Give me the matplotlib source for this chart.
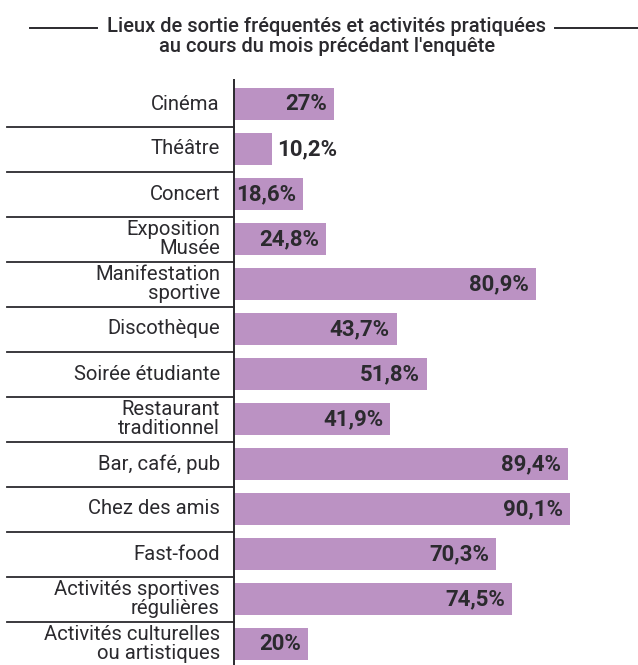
import matplotlib
matplotlib.use("Agg")
import matplotlib.pyplot as plt
from matplotlib.lines import Line2D
import matplotlib.transforms as mtransforms

categories = [
    "Cinéma", "Théâtre", "Concert", "Exposition\nMusée",
    "Manifestation\nsportive", "Discothèque", "Soirée étudiante",
    "Restaurant\ntraditionnel", "Bar, café, pub", "Chez des amis",
    "Fast-food", "Activités sportives\nrégulières",
    "Activités culturelles\nou artistiques",
]
values = [27, 10.2, 18.6, 24.8, 80.9, 43.7, 51.8, 41.9, 89.4, 90.1, 70.3, 74.5, 20]
value_labels = ["27%", "10,2%", "18,6%", "24,8%", "80,9%", "43,7%", "51,8%",
                "41,9%", "89,4%", "90,1%", "70,3%", "74,5%", "20%"]
title_lines = ["Lieux de sortie fréquentés et activités pratiquées",
               "au cours du mois précédant l'enquête"]

FONT = ["Roboto", "DejaVu Sans"]
BAR = "#bb92c3"
INK = "#2b2a2e"

W, H = 638, 665
fig = plt.figure(figsize=(W / 100, H / 100), dpi=100)

# axes geometry in pixels
ax_left, ax_top, ax_bottom = 233.5, 79, 665
px_per_unit = 3.74
ax_width = 100 * px_per_unit
ax = fig.add_axes([ax_left / W, 1 - ax_bottom / H, ax_width / W, (ax_bottom - ax_top) / H])

row0, step = 104, 45
y_top = (ax_top - row0) / step
y_bot = (ax_bottom - row0) / step
n = len(categories)
ypos = list(range(n))

ax.barh(ypos, values, height=0.71, color=BAR, left=0)
ax.set_xlim(0, 100)
ax.set_ylim(y_bot, y_top)
ax.axis("off")

# vertical axis line
ax.plot([0, 0], [y_bot, y_top], color=INK, lw=1.4, clip_on=False, solid_capstyle="butt")

# separators between category labels
trans = mtransforms.blended_transform_factory(ax.transAxes, ax.transData)
sep_left = (7 - ax_left) / ax_width
for i in range(n - 1):
    ax.add_line(Line2D([sep_left, 0], [i + 0.5, i + 0.5], transform=trans,
                       color=INK, lw=1.3, clip_on=False))

# category labels
lab_x = (220 - ax_left) / ax_width
for i, c in enumerate(categories):
    ax.text(lab_x, i, c, transform=trans, ha="right", va="center",
            fontsize=14.6, family=FONT, color=INK, linespacing=0.96)

# value labels
pad = 7 / px_per_unit
for i, (v, s) in enumerate(zip(values, value_labels)):
    if v < 15:
        ax.text(v + pad - 2 / px_per_unit, i, s, ha="left", va="center", fontsize=16,
                fontweight="bold", family=FONT, color=INK)
    else:
        ax.text(v - pad, i, s, ha="right", va="center", fontsize=16,
                fontweight="bold", family=FONT, color=INK)

# title with rules on both sides
fig.text(327 / W, 1 - 26 / H, title_lines[0], ha="center", va="center",
         fontsize=14.5, fontweight="medium", family=FONT, color=INK)
fig.text(327 / W, 1 - 47 / H, title_lines[1], ha="center", va="center",
         fontsize=14.5, fontweight="medium", family=FONT, color=INK)
fig.add_artist(Line2D([30 / W, 97 / W], [1 - 28 / H, 1 - 28 / H], color=INK, lw=1.4))
fig.add_artist(Line2D([555 / W, 1.0], [1 - 28 / H, 1 - 28 / H], color=INK, lw=1.4))

fig.savefig("out.png", dpi=100)
